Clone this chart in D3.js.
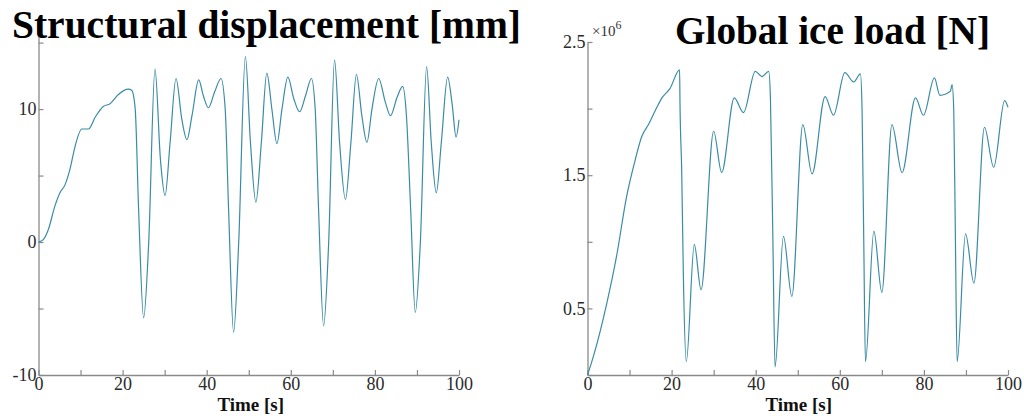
<!DOCTYPE html>
<html>
<head>
<meta charset="utf-8">
<script src="https://cdn.jsdelivr.net/npm/d3@7/dist/d3.min.js"></script>
<style>
  html, body { margin: 0; padding: 0; background: #fff; }
  svg { display: block; }
  .title { font-family: "Liberation Serif", "Times New Roman", serif; font-weight: bold; font-size: 39px; fill: #000; }
  .xlabel { font-family: "Liberation Serif", "Times New Roman", serif; font-weight: bold; font-size: 19px; fill: #111; }
</style>
</head>
<body>
<svg id="chart" width="1024" height="416"></svg>
<script>
// Structural displacement time history [mm]
const dispTime = [0, 1.2, 2.3, 3.9, 5.1, 6.3, 7.5, 8.7, 10.3, 11.9, 13.5, 15.4, 17.0, 19.0, 21.4, 22.2,
  23.0, 23.8, 25.0, 26.2, 27.7, 29.0, 30.1, 31.3, 32.7, 34.1, 35.3, 36.5, 38.1, 39.2, 40.4, 41.9, 43.4,
  44.4, 45.2, 46.4, 47.6, 49.2, 50.4, 51.7, 53.0, 54.3, 55.5, 56.7, 57.9, 59.3, 60.7, 62.1, 63.5, 64.9,
  65.8, 66.6, 67.8, 69.0, 70.4, 71.6, 73.0, 74.3, 75.6, 76.9, 78.1, 79.3, 80.9, 82.5, 83.7, 85.3, 86.6,
  87.5, 88.5, 89.6, 90.8, 92.3, 93.4, 94.6, 95.8, 97.3, 98.4, 99.3, 100];
const dispValue = [0, 0.2, 0.9, 2.7, 3.7, 4.3, 5.5, 7.2, 8.5, 8.5, 9.4, 10.2, 10.4, 11.1, 11.5, 11.4,
  10.0, 2.5, -5.7, -0.1, 13.0, 6.2, 3.5, 7.5, 12.3, 9.2, 7.7, 9.5, 12.2, 11.0, 10.1, 11.3, 12.3,
  10.0, 2.5, -6.8, -0.1, 13.95, 7.5, 3.0, 7.5, 12.7, 10.0, 7.4, 10.0, 12.4, 10.8, 9.8, 11.0, 12.3,
  10.0, 2.5, -6.3, -0.1, 13.7, 7.5, 3.2, 7.5, 12.6, 9.5, 7.5, 10.0, 12.3, 10.5, 9.5, 10.9, 11.7,
  9.5, 2.5, -5.3, -0.1, 13.2, 7.5, 3.7, 7.5, 12.4, 10.3, 7.9, 9.2];

// Global ice load time history [N]
const loadTime = [0, 1.4, 4.6, 6.9, 9.3, 11.3, 12.9, 14.5, 16.5, 17.7, 19.6, 21.9, 22.0, 22.4, 22.8, 23.5,
  25.4, 27.0, 30.0, 31.9, 34.9, 37.1, 39.9, 41.5, 43.1, 43.5, 44.1, 44.6,
  46.6, 48.6, 51.2, 53.4, 56.5, 58.5, 61.2, 63.3, 64.9, 65.3, 65.7, 66.1,
  68.1, 70.0, 72.4, 74.8, 78.0, 79.9, 82.5, 83.8, 86.3, 86.7, 87.1, 87.5, 87.9,
  89.9, 91.9, 94.4, 96.6, 99.2, 100];
const loadValue = [0, 0.14e6, 0.54e6, 0.89e6, 1.34e6, 1.61e6, 1.79e6, 1.88e6, 2.01e6, 2.08e6, 2.15e6, 2.29e6, 2.03e6, 1.54e6, 0.74e6, 0.10e6,
  0.98e6, 0.64e6, 1.83e6, 1.52e6, 2.08e6, 1.97e6, 2.28e6, 2.24e6, 2.28e6, 2.08e6, 0.99e6, 0.06e6,
  1.04e6, 0.59e6, 1.88e6, 1.51e6, 2.09e6, 1.95e6, 2.27e6, 2.20e6, 2.26e6, 1.99e6, 1.0e6, 0.10e6,
  1.08e6, 0.62e6, 1.88e6, 1.52e6, 2.08e6, 1.95e6, 2.23e6, 2.10e6, 2.13e6, 2.18e6, 1.99e6, 1.0e6, 0.10e6,
  1.06e6, 0.69e6, 1.86e6, 1.56e6, 2.06e6, 2.01e6];

// Axis ticks and labels
const timeTicks = [0, 10, 20, 30, 40, 50, 60, 70, 80, 90, 100];
const timeLabels = [0, 20, 40, 60, 80, 100];
const dispTicks = [-10, -5, 0, 5, 10, 15];
const dispLabels = [-10, 0, 10];
const loadTicks = [0, 0.5e6, 1e6, 1.5e6, 2e6, 2.5e6];
const loadLabels = [0.5e6, 1.5e6, 2.5e6];

const titles = ["Structural displacement [mm]", "Global ice load [N]"];
const xTitle = "Time [s]";

const svg = d3.select("#chart");
const lineColor = "#3a8ca6";
const axisColor = "#8a8a8a";
const serif = "Liberation Serif, Times New Roman, serif";

function styleAxis(g) {
  g.attr("font-family", serif).attr("font-size", 18);
  g.selectAll(".tick text").attr("fill", "#2a2a2a")
    .style("font-family", serif).style("font-size", "18px");
  g.select(".domain").attr("stroke", axisColor).attr("stroke-width", 1.3);
  g.selectAll(".tick line").attr("stroke", axisColor).attr("stroke-width", 1.2);
}

function panel(opts) {
  const x = d3.scaleLinear().domain([0, 100]).range(opts.xRange);
  const y = d3.scaleLinear().domain(opts.yDomain).range(opts.yRange);

  const xAxis = d3.axisBottom(x).tickValues(timeTicks).tickSizeInner(-5).tickSizeOuter(0).tickPadding(2)
    .tickFormat(d => timeLabels.includes(d) ? d : "");
  const yAxis = d3.axisLeft(y).tickValues(opts.yTicks).tickSizeInner(-5).tickSizeOuter(0).tickPadding(2)
    .tickFormat(d => opts.yLabels.includes(d) ? opts.fmt(d) : "");

  svg.append("g").attr("transform", `translate(0,${opts.yRange[0]})`).call(xAxis).call(styleAxis);
  svg.append("g").attr("transform", `translate(${opts.xRange[0]},0)`).call(yAxis).call(styleAxis);

  const line = d3.line().x(d => x(d[0])).y(d => y(d[1])).curve(d3.curveMonotoneX);
  svg.append("path")
    .datum(d3.zip(opts.t, opts.v))
    .attr("fill", "none")
    .attr("stroke", lineColor)
    .attr("stroke-width", 1.2)
    .attr("d", line);

  svg.append("text").attr("class", "xlabel")
    .attr("x", (opts.xRange[0] + opts.xRange[1]) / 2 + opts.xLabelShift).attr("y", 411)
    .attr("text-anchor", "middle").text(xTitle);

  return { x, y };
}

panel({
  xRange: [38.5, 459], yDomain: [-10, 17], yRange: [375, 16],
  yTicks: dispTicks, yLabels: dispLabels, fmt: d => d,
  t: dispTime, v: dispValue, xLabelShift: 2
});

panel({
  xRange: [587.5, 1008], yDomain: [0, 2.5e6], yRange: [375, 42],
  yTicks: loadTicks, yLabels: loadLabels, fmt: d => d / 1e6,
  t: loadTime, v: loadValue, xLabelShift: 1
});

// Exponent marker for the load axis
const expo = svg.append("text")
  .attr("x", 592).attr("y", 36)
  .attr("font-family", serif).attr("font-size", 15).attr("fill", "#333");
expo.append("tspan").text("×10");
expo.append("tspan").attr("dy", -7).attr("font-size", 12).text("6");

// Panel titles
svg.append("text").attr("class", "title").attr("x", 12).attr("y", 38)
  .attr("textLength", 509).attr("lengthAdjust", "spacingAndGlyphs").text(titles[0]);
svg.append("text").attr("class", "title").attr("x", 675).attr("y", 44)
  .attr("textLength", 315).attr("lengthAdjust", "spacingAndGlyphs").text(titles[1]);
</script>
</body>
</html>
